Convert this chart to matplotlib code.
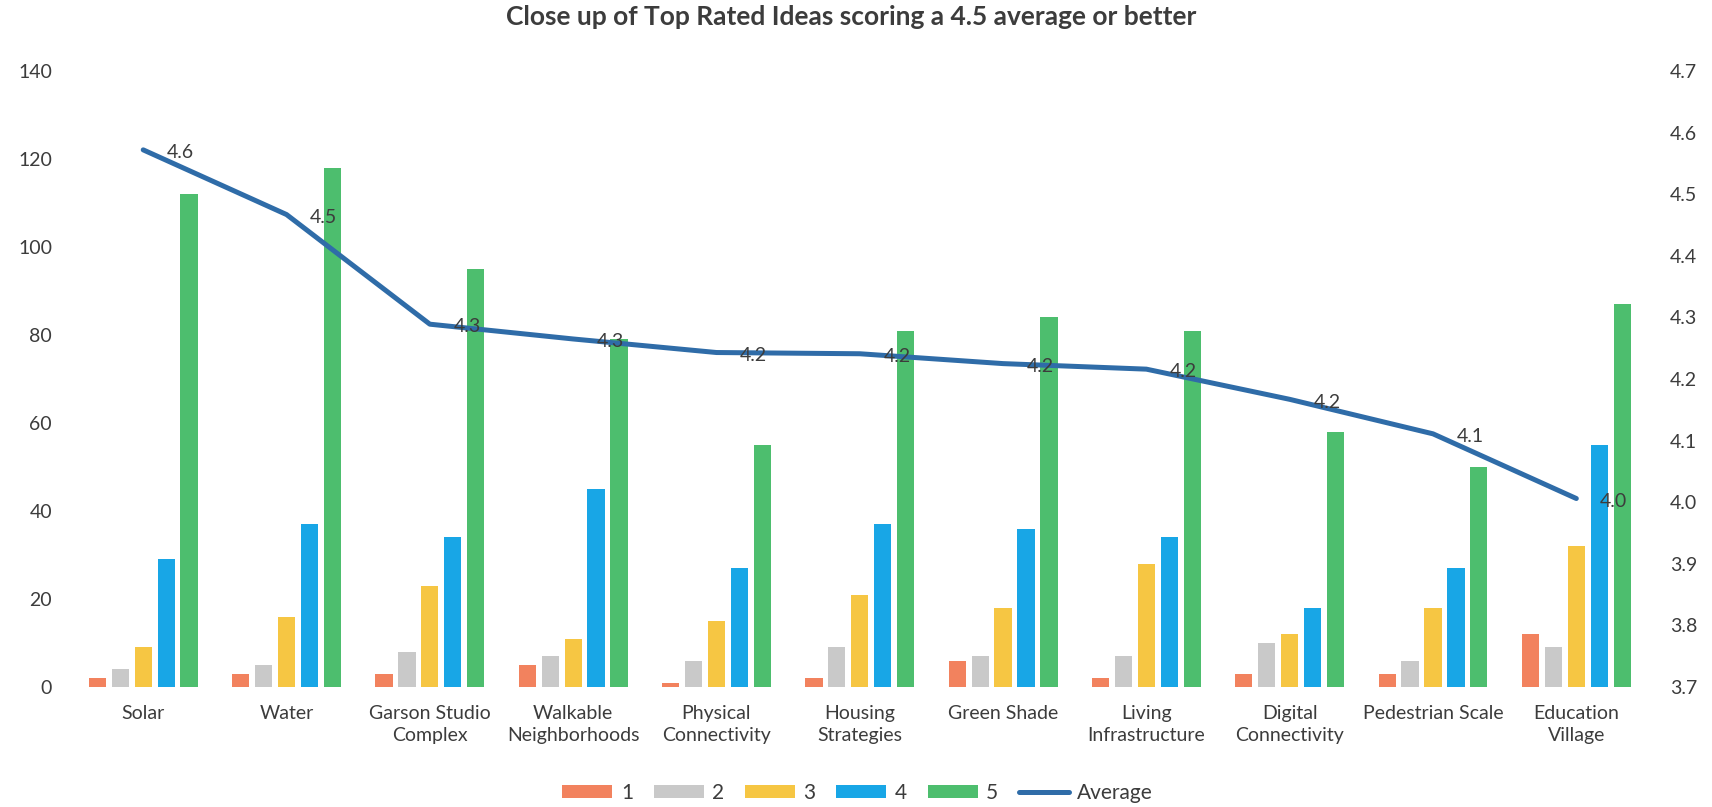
import numpy as np
import matplotlib.pyplot as plt

plt.rcParams['font.family'] = ['Lato', 'DejaVu Sans']

categories = ['Solar', 'Water', 'Garson Studio\nComplex', 'Walkable\nNeighborhoods',
              'Physical\nConnectivity', 'Housing\nStrategies', 'Green Shade',
              'Living\nInfrastructure', 'Digital\nConnectivity', 'Pedestrian Scale',
              'Education\nVillage']

score_1 = [2, 3, 3, 5, 1, 2, 6, 2, 3, 3, 12]
score_2 = [4, 5, 8, 7, 6, 9, 7, 7, 10, 6, 9]
score_3 = [9, 16, 23, 11, 15, 21, 18, 28, 12, 18, 32]
score_4 = [29, 37, 34, 45, 27, 37, 36, 34, 18, 27, 55]
score_5 = [112, 118, 95, 79, 55, 81, 84, 81, 58, 50, 87]
average = [4.572, 4.467, 4.289, 4.265, 4.243, 4.241, 4.225, 4.216, 4.167, 4.111, 4.006]

series_names = ['1', '2', '3', '4', '5']
colors = ['#F2825E', '#C9C9C9', '#F6C643', '#18A6E6', '#4DBE6E']
line_color = '#2F6CA8'
text_color = '#3C3C3C'

fig = plt.figure(figsize=(17.12, 8.07), dpi=100)
ax = fig.add_axes([0.0418, 0.1487, 0.9208, 0.7633])
ax2 = ax.twinx()

x = np.arange(len(categories))
pitch = 0.16
width = 0.12
handles = []
for i, (vals, name, c) in enumerate(zip([score_1, score_2, score_3, score_4, score_5],
                                        series_names, colors)):
    b = ax.bar(x + (i - 2) * pitch, vals, width, color=c, label=name)
    handles.append(b)

ln, = ax2.plot(x, average, color=line_color, linewidth=3.6, label='Average',
               solid_joinstyle='round', solid_capstyle='round')
handles.append(ln)
for xi, v in zip(x, average):
    ax2.annotate(f'{v:.1f}', (xi, v), xytext=(17, -2), textcoords='offset points',
                 ha='left', va='center', fontsize=14, color=text_color)

ax.set_xlim(-0.5, len(categories) - 0.5)
ax.set_ylim(0, 140)
ax.set_yticks(range(0, 141, 20))
ax2.set_ylim(3.7, 4.7)
ticks_r = np.arange(3.7, 4.71, 0.1)
ax2.set_yticks(ticks_r)
ax2.set_yticklabels([f'{t:.1f}' for t in ticks_r])

ax.set_xticks(x)
ax.set_xticklabels(categories, linespacing=1.35)
ax.tick_params(axis='x', length=0, pad=13, labelsize=14, labelcolor=text_color)
ax.tick_params(axis='y', length=0, pad=14, labelsize=14, labelcolor=text_color)
ax2.tick_params(axis='y', length=0, pad=16, labelsize=14, labelcolor=text_color)

for a in (ax, ax2):
    for s in a.spines.values():
        s.set_visible(False)

fig.text(0.497, 0.979, 'Close up of Top Rated Ideas scoring a 4.5 average or better',
         ha='center', va='center', fontsize=19, fontweight='bold', color=text_color)

fig.legend(handles=handles, labels=series_names + ['Average'], loc='center',
           bbox_to_anchor=(0.501, 0.0174), ncol=6, frameon=False, fontsize=15,
           handlelength=2.4, handleheight=0.55, columnspacing=1.0, handletextpad=0.4,
           labelcolor=text_color)

fig.savefig('out.png', dpi=100)
